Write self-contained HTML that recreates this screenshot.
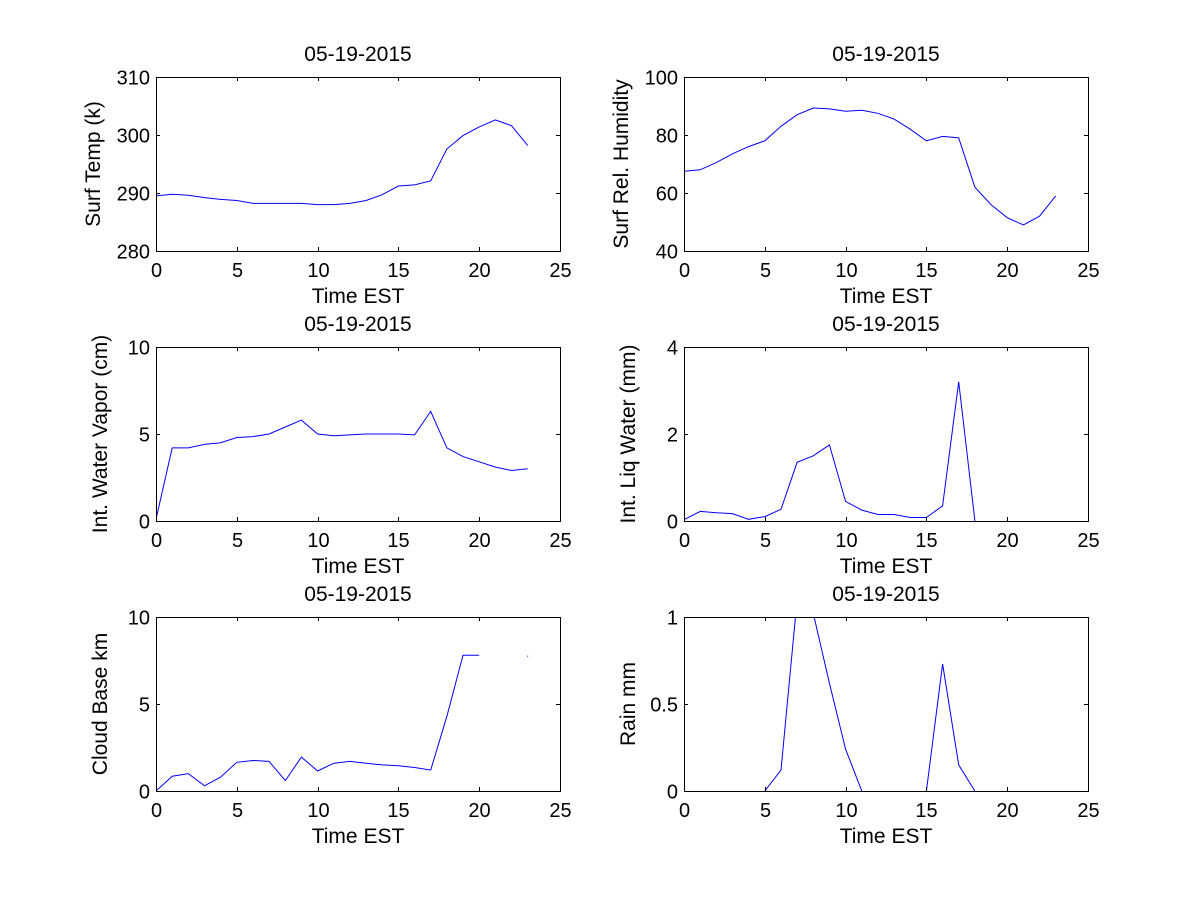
<!DOCTYPE html>
<html><head><meta charset="utf-8"><style>
html,body{margin:0;padding:0;background:#fff;}
svg{display:block;font-family:"Liberation Sans",Arial,sans-serif;}
</style></head><body>
<svg id="fig" width="1200" height="900"></svg>
<script>
const hours=[0,1,2,3,4,5,6,7,8,9,10,11,12,13,14,15,16,17,18,19,20,21,22,23];
const surfTemp=[289.5,289.8,289.6,289.2,288.9,288.7,288.2,288.2,288.2,288.2,288.0,288.0,288.2,288.7,289.7,291.2,291.4,292.1,297.6,299.9,301.4,302.6,301.6,298.2];
const relHum=[67.5,68,70.5,73.5,76,78,83,87,89.3,89,88.2,88.5,87.5,85.5,82,78,79.5,79,62,56,51.5,49,52,59];
const waterVapor=[0.1,4.2,4.2,4.4,4.5,4.8,4.85,5.0,5.4,5.8,5.0,4.9,4.95,5.0,5.0,5.0,4.95,6.3,4.2,3.7,3.4,3.1,2.9,3.0];
const liqWater=[0.03,0.22,0.19,0.17,0.04,0.1,0.27,1.35,1.5,1.75,0.45,0.25,0.15,0.15,0.08,0.08,0.35,3.2,0,null,null,null,null,null];
const cloudBase=[0,0.85,1.0,0.3,0.8,1.65,1.75,1.7,0.6,1.95,1.15,1.6,1.7,1.6,1.5,1.45,1.35,1.2,4.3,7.8,7.8,null,null,7.75];
const rain=[null,null,null,null,null,0,0.12,1.1,1.02,0.62,0.24,0,null,null,null,0,0.73,0.15,0,null,null,null,null,null];
const xTicks=[0,5,10,15,20,25];

const panels=[
 {name:'surf-temp',x:156,y:77,vals:surfTemp,ymin:280,ymax:310,yt:[280,290,300,310],yl:'Surf Temp (k)'},
 {name:'surf-rel-humidity',x:684,y:77,vals:relHum,ymin:40,ymax:100,yt:[40,60,80,100],yl:'Surf Rel. Humidity'},
 {name:'water-vapor',x:156,y:347,vals:waterVapor,ymin:0,ymax:10,yt:[0,5,10],yl:'Int. Water Vapor (cm)'},
 {name:'liq-water',x:684,y:347,vals:liqWater,ymin:0,ymax:4,yt:[0,2,4],yl:'Int. Liq Water (mm)'},
 {name:'cloud-base',x:156,y:617,vals:cloudBase,ymin:0,ymax:10,yt:[0,5,10],yl:'Cloud Base km'},
 {name:'rain',x:684,y:617,vals:rain,ymin:0,ymax:1,yt:[0,0.5,1],yl:'Rain mm'}
];
const W=404,H=174,NS='http://www.w3.org/2000/svg';
const svg=document.getElementById('fig');
function mk(t,a,p){const e=document.createElementNS(NS,t);for(const k in a)e.setAttribute(k,a[k]);(p||svg).appendChild(e);return e;}
panels.forEach((p,i)=>{
 const g=mk('g',{});
 
 
 const sx=v=>p.x+v/25*W, sy=v=>p.y+H-(v-p.ymin)/(p.ymax-p.ymin)*H;
 const cp=mk('clipPath',{id:'c'+i},g);mk('rect',{x:p.x,y:p.y,width:W,height:H},cp);
 let d='',pen=false;
 p.vals.forEach((v,j)=>{ if(v===null){pen=false;return;} d+=(pen?'L':'M')+sx(hours[j]).toFixed(1)+' '+sy(v).toFixed(1)+' '; pen=true;});
 const line=mk('path',{d:d,fill:'none',stroke:'#0000ff','stroke-width':1,'clip-path':'url(#c'+i+')'},g);
 
 
 p.vals.forEach((v,j)=>{ if(v!==null&&(j===0||p.vals[j-1]===null)&&(j===p.vals.length-1||p.vals[j+1]===null)){mk('rect',{x:sx(hours[j])-0.5,y:sy(v)-0.5,width:1,height:1,fill:'#0000ff'},g);} });
 const box=mk('rect',{x:p.x+0.5,y:p.y+0.5,width:W,height:H,fill:'none',stroke:'#000','stroke-width':1},g);
 
 
 xTicks.forEach(t=>{const X=Math.round(sx(t))+0.5;
  mk('line',{x1:X,x2:X,y1:p.y+H,y2:p.y+H-4,stroke:'#000'},g);mk('line',{x1:X,x2:X,y1:p.y,y2:p.y+4,stroke:'#000'},g);
  const tx=mk('text',{x:X,y:p.y+H+26,'font-size':20,'text-anchor':'middle'},g);tx.textContent=t;
  
  });
 p.yt.forEach(t=>{const Y=Math.round(sy(t))+0.5;
  mk('line',{x1:p.x,x2:p.x+4,y1:Y,y2:Y,stroke:'#000'},g);mk('line',{x1:p.x+W,x2:p.x+W-4,y1:Y,y2:Y,stroke:'#000'},g);
  const tx=mk('text',{x:p.x-6,y:Y+7,'font-size':20,'text-anchor':'end'},g);tx.textContent=t;
  
  });
 const ti=mk('text',{x:p.x+W/2,y:p.y-16,'font-size':21,'text-anchor':'middle'},g);ti.textContent='05-19-2015';
 
 
 const xl=mk('text',{x:p.x+W/2,y:p.y+H+52,'font-size':21,'text-anchor':'middle'},g);xl.textContent='Time EST';
 
 
 const lx=p.x-(p.ymax>=100?56:49), ly=p.y+H/2;
 const yl=mk('text',{x:lx,y:ly,'font-size':21,'text-anchor':'middle',transform:'rotate(-90 '+lx+' '+ly+')'},g);yl.textContent=p.yl;
 
 
});
</script>
</body></html>
